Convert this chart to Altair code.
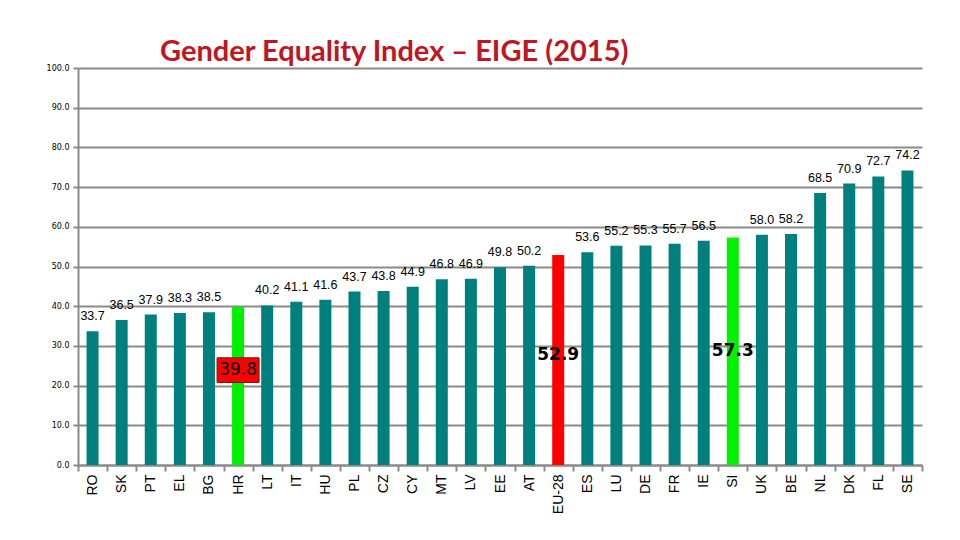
import altair as alt
import pandas as pd

countries = ["RO", "SK", "PT", "EL", "BG", "HR", "LT", "IT", "HU", "PL", "CZ", "CY",
             "MT", "LV", "EE", "AT", "EU-28", "ES", "LU", "DE", "FR", "IE", "SI",
             "UK", "BE", "NL", "DK", "FL", "SE"]
values = [33.7, 36.5, 37.9, 38.3, 38.5, 39.8, 40.2, 41.1, 41.6, 43.7, 43.8, 44.9,
          46.8, 46.9, 49.8, 50.2, 52.9, 53.6, 55.2, 55.3, 55.7, 56.5, 57.3,
          58.0, 58.2, 68.5, 70.9, 72.7, 74.2]
y_ticks = [0, 10, 20, 30, 40, 50, 60, 70, 80, 90, 100]
highlight = {"HR": "green", "SI": "green", "EU-28": "red"}
color_map = {"normal": "#007F7F", "green": "#00F000", "red": "#FF0000"}

# annotations placed inside bars (country, label, vertical position on the axis)
inner_countries = ["HR", "EU-28", "SI"]
inner_labels = ["39.8", "52.9", "57.3"]
inner_pos = [23.9, 27.7, 28.6]

df = pd.DataFrame({"country": countries, "value": values})
df["kind"] = [highlight.get(c, "normal") for c in countries]
df["label"] = [f"{v:.1f}" for v in values]
top_df = df[~df["country"].isin(inner_countries)]
inner_df = pd.DataFrame({"country": inner_countries, "label": inner_labels, "pos": inner_pos})
box_df = inner_df[inner_df["country"] == "HR"].copy()
box_df["lo"] = box_df["pos"] - 3.1
box_df["hi"] = box_df["pos"] + 3.1
bold_df = inner_df[inner_df["country"] != "HR"]

x_axis = alt.Axis(labelAngle=-90, labelFontSize=14, labelFont="Liberation Sans",
                  labelColor="black", labelAlign="right", labelBaseline="middle",
                  labelPadding=3, tickBand="extent", tickColor="#8a8a8a",
                  tickSize=6, tickWidth=2, domainColor="#8a8a8a", domainWidth=2,
                  grid=False, labelOverlap=False)
y_axis = alt.Axis(values=y_ticks, format=".1f", labelFontSize=8,
                  labelFont="DejaVu Sans", labelColor="black", labelPadding=4,
                  labelOverlap=False, tickCount=11,
                  tickColor="#8a8a8a", tickSize=5, tickWidth=2,
                  domainColor="#8a8a8a", domainWidth=2,
                  gridColor="#8a8a8a", gridWidth=2)
x_scale = alt.Scale(paddingInner=0.0, paddingOuter=0.0)
y_scale = alt.Scale(domain=[0, 100], nice=False)


def X():
    return alt.X("country:N", sort=countries, title=None, scale=x_scale, axis=x_axis)


def Y(field):
    return alt.Y(field, title=None, scale=y_scale, axis=y_axis)


bars = alt.Chart(df).mark_bar(width=12).encode(
    x=X(), y=Y("value:Q"),
    color=alt.Color("kind:N", scale=alt.Scale(domain=list(color_map.keys()),
                                               range=list(color_map.values())), legend=None),
)

top_labels = alt.Chart(top_df).mark_text(dy=-15, fontSize=12.5, font="Liberation Sans",
                                          color="black").encode(
    x=X(), y=Y("value:Q"), text="label:N")

box = alt.Chart(box_df).mark_bar(width=42, color="#FF0000", stroke="#7a1010",
                                 strokeWidth=1).encode(
    x=X(), y=Y("lo:Q"), y2="hi:Q")

box_text = alt.Chart(box_df).mark_text(fontSize=17, font="DejaVu Sans",
                                       color="black").encode(
    x=X(), y=Y("pos:Q"), text="label:N")

bold_text = alt.Chart(bold_df).mark_text(fontSize=17, font="DejaVu Sans",
                                         fontWeight="bold", color="black").encode(
    x=X(), y=Y("pos:Q"), text="label:N")

chart = alt.layer(bars, top_labels, box, box_text, bold_text).properties(
    width=844, height=397,
    padding={"left": 70, "top": 60, "right": 30, "bottom": 67},
    autosize=alt.AutoSizeParams(type="none"),
    title=alt.TitleParams("Gender Equality Index – EIGE (2015)", anchor="start", dx=114,
                          offset=-3, fontSize=29, font="Lato", fontWeight="bold",
                          color="#BE1622"),
).configure_view(stroke=None)

chart.save("out.html", embed_options={"renderer": "svg", "actions": False})
